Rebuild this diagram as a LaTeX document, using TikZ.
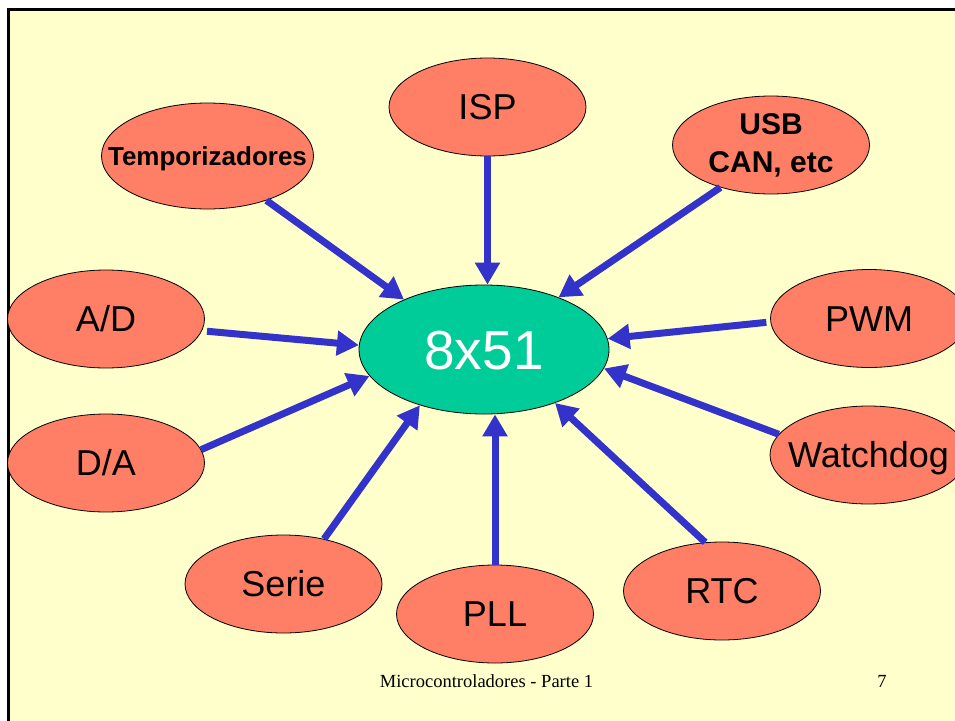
\documentclass[tikz,border=0pt]{standalone}
\usepackage{fontspec}
\setmainfont{Liberation Sans}
\newfontfamily\footfont{Liberation Serif}
\usetikzlibrary{shapes.geometric,arrows.meta}

\definecolor{pagebg}{RGB}{255,255,204}
\definecolor{periphfill}{RGB}{255,126,102}
\definecolor{corefill}{RGB}{0,204,153}
\definecolor{arrowblue}{RGB}{51,51,204}

\tikzset{
  periph/.style={ellipse, draw=black, line width=0.8pt, fill=periphfill,
    minimum width=197pt, minimum height=98pt, inner sep=0pt},
  plain/.style={font=\fontsize{36}{36}\selectfont, text height=25.8pt, text depth=0pt, inner sep=0pt},
  boldlbl/.style={font=\bfseries\fontsize{26}{26}\selectfont, text height=18.6pt, text depth=0pt, inner sep=0pt},
  feed/.style={draw=arrowblue, line width=7pt, -{Triangle[width=24pt,length=22pt]}},
}

\begin{document}
\begin{tikzpicture}[x=1pt,y=-1pt]
  \useasboundingbox (0,0) rectangle (955,720);
  \clip (0,0) rectangle (955,720);
  \fill[white] (0,0) rectangle (955,720);
  \draw[fill=pagebg, line width=2.7pt] (8.7,9.7) rectangle (990,760);

  % central microcontroller
  \node[ellipse, draw=black, line width=0.8pt, fill=corefill,
        minimum width=250pt, minimum height=129pt, inner sep=0pt,
        font=\fontsize{55}{55}\selectfont, text=white,
        text height=39.4pt, text depth=0pt] (mcu) at (484,349.5) {8x51};

  % peripherals
  \node[periph, minimum width=212pt, minimum height=106pt,
        label={[boldlbl]center:Temporizadores}] (temp) at (207.5,156) {};
  \node[periph, label={[plain]center:ISP}] (isp) at (487.5,107) {};
  \node[periph, label={[align=center, inner sep=0pt,
        font=\bfseries\fontsize{30}{38}\selectfont]center:USB\\CAN, etc}] (usb) at (771,145) {};
  \node[periph, label={[plain]center:A/D}] (ad) at (106,319) {};
  \node[periph, label={[plain]center:PWM}] (pwm) at (869,318.5) {};
  \node[periph, label={[plain]center:D/A}] (da) at (106,463) {};
  \node[periph, label={[plain]center:Watchdog}] (wd) at (868.5,455) {};
  \node[periph, label={[plain]center:Serie}] (serie) at (283.5,584) {};
  \node[periph, label={[plain]center:PLL}] (pll) at (495,614) {};
  \node[periph, label={[plain]center:RTC}] (rtc) at (722,591) {};

  % connections into the core
  \draw[feed] (temp.-37) -- (mcu.148);
  \draw[feed] (isp.south) -- (isp.south |- mcu.north);
  \draw[feed] (usb.220) -- (mcu.35);
  \draw[feed, shorten <=5pt] (ad.-7) -- (mcu.178);
  \draw[feed] (da.8) -- (mcu.193);
  \draw[feed, shorten <=4pt] (pwm.182) -- (mcu.5);
  \draw[feed] (wd.167) -- (mcu.-9);
  \draw[feed] (serie.48) -- (mcu.221);
  \draw[feed] (pll.north) -- (pll.north |- mcu.south);
  \draw[feed] (rtc.109) -- (mcu.-37);

  % footer
  \node[font=\footfont\fontsize{18.5}{18.5}\selectfont, anchor=base, inner sep=0pt]
    (foot) at (486.5,687) {Microcontroladores - Parte 1};
  \node[font=\footfont\fontsize{18.5}{18.5}\selectfont, anchor=base, inner sep=0pt]
    (pageno) at (882,687) {7};
\end{tikzpicture}
\end{document}
